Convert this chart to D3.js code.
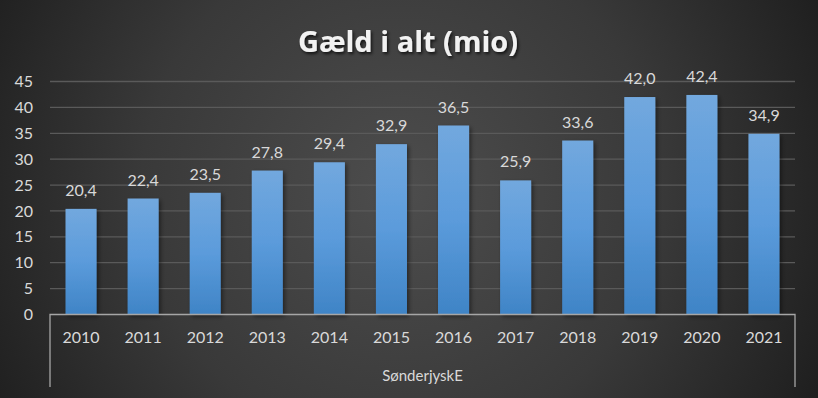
<!DOCTYPE html>
<html>
<head>
<meta charset="utf-8">
<script src="https://cdn.jsdelivr.net/npm/d3@7"></script>
<style>
  body { margin: 0; background: #2a2a2a; }
  svg { display: block; font-family: Lato, "Open Sans", sans-serif; }
</style>
</head>
<body>
<div id="chart"></div>
<script>
const years = ["2010", "2011", "2012", "2013", "2014", "2015", "2016", "2017", "2018", "2019", "2020", "2021"];
const debt = [20.4, 22.4, 23.5, 27.8, 29.4, 32.9, 36.5, 25.9, 33.6, 42.0, 42.4, 34.9];
const yTicks = [0, 5, 10, 15, 20, 25, 30, 35, 40, 45];
const groupLabel = "SønderjyskE";
const title = "Gæld i alt (mio)";

const w = 818, h = 398;
const plotLeft = 50, plotRight = 795, plotTop = 81.5, plotBottom = 314.5;

const svg = d3.select("#chart").append("svg")
    .attr("width", w)
    .attr("height", h);

const defs = svg.append("defs");

// background radial gradient
const bg = defs.append("radialGradient")
    .attr("id", "bg")
    .attr("gradientUnits", "userSpaceOnUse")
    .attr("cx", 400).attr("cy", 190).attr("r", 470);
bg.append("stop").attr("offset", "0%").attr("stop-color", "#4d4d4d");
bg.append("stop").attr("offset", "55%").attr("stop-color", "#393939");
bg.append("stop").attr("offset", "100%").attr("stop-color", "#1e1e1e");

// bar gradient
const bar = defs.append("linearGradient")
    .attr("id", "bar")
    .attr("x1", 0).attr("y1", 0).attr("x2", 0).attr("y2", 1);
bar.append("stop").attr("offset", "0%").attr("stop-color", "#72a8de");
bar.append("stop").attr("offset", "50%").attr("stop-color", "#5b9bdb");
bar.append("stop").attr("offset", "100%").attr("stop-color", "#3f84c6");

const shadow = defs.append("filter").attr("id", "shadow")
    .attr("x", "-20%").attr("y", "-20%").attr("width", "150%").attr("height", "150%");
shadow.append("feDropShadow")
    .attr("dx", 2).attr("dy", 2).attr("stdDeviation", 2)
    .attr("flood-color", "#000").attr("flood-opacity", 0.45);

const tshadow = defs.append("filter").attr("id", "tshadow")
    .attr("x", "-10%").attr("y", "-30%").attr("width", "120%").attr("height", "170%");
tshadow.append("feDropShadow")
    .attr("dx", 1.5).attr("dy", 2).attr("stdDeviation", 1.5)
    .attr("flood-color", "#000").attr("flood-opacity", 0.7);

svg.append("rect").attr("width", w).attr("height", h).attr("fill", "url(#bg)");

const x = d3.scaleBand().domain(years).range([plotLeft, plotRight]).paddingInner(0.5).paddingOuter(0.25);
const y = d3.scaleLinear().domain([0, 45]).range([plotBottom, plotTop]);

// gridlines
svg.append("g")
    .selectAll("line")
    .data(yTicks.filter(d => d > 0))
    .enter()
    .append("line")
    .attr("x1", plotLeft).attr("x2", plotRight)
    .attr("y1", d => y(d)).attr("y2", d => y(d))
    .attr("stroke", "#5a5a5a")
    .attr("stroke-width", 1.3);

// y axis labels
const yAxis = svg.append("g")
    .attr("transform", "translate(" + (plotLeft - 12) + ",0)")
    .call(d3.axisLeft(y).tickValues(yTicks).tickSize(0).tickPadding(5));
yAxis.select(".domain").remove();
yAxis.selectAll("text")
    .attr("fill", "#d9d9d9")
    .style("font-size", "16px")
    .style("font-family", "Lato, sans-serif");

// bars
svg.append("g")
    .selectAll("rect")
    .data(debt)
    .enter()
    .append("rect")
    .attr("x", (d, i) => x(years[i]))
    .attr("y", d => y(d))
    .attr("width", x.bandwidth())
    .attr("height", d => plotBottom - y(d))
    .attr("fill", "url(#bar)")
    .attr("filter", "url(#shadow)");

// data labels
svg.append("g")
    .selectAll("text")
    .data(debt)
    .enter()
    .append("text")
    .attr("x", (d, i) => x(years[i]) + x.bandwidth() / 2)
    .attr("y", d => y(d) - 13)
    .attr("text-anchor", "middle")
    .attr("fill", "#d9d9d9")
    .style("font-size", "16px")
    .text(d => d3.format(".1f")(d).replace(".", ","));

// x axis
const xAxis = svg.append("g")
    .attr("transform", "translate(0," + plotBottom + ")")
    .call(d3.axisBottom(x).tickSize(0).tickPadding(17));
xAxis.select(".domain").remove();
xAxis.selectAll("text")
    .attr("fill", "#d9d9d9")
    .style("font-size", "16px")
    .style("font-family", "Lato, sans-serif");

// axis line and group bracket
svg.append("path")
    .attr("d", "M" + plotLeft + "," + 387 + "V" + plotBottom + "H" + plotRight + "V" + 387)
    .attr("fill", "none")
    .attr("stroke", "#a6a6a6")
    .attr("stroke-width", 1.3);

svg.append("text")
    .attr("x", (plotLeft + plotRight) / 2)
    .attr("y", 381)
    .attr("text-anchor", "middle")
    .attr("fill", "#d9d9d9")
    .style("font-size", "15px")
    .text(groupLabel);

// title
svg.append("text")
    .attr("x", 408)
    .attr("y", 52)
    .attr("text-anchor", "middle")
    .attr("fill", "#f2f2f2")
    .attr("filter", "url(#tshadow)")
    .style("font-size", "29px")
    .style("font-weight", "bold")
    .style("font-family", "'Open Sans', sans-serif")
    .text(title);
</script>
</body>
</html>
